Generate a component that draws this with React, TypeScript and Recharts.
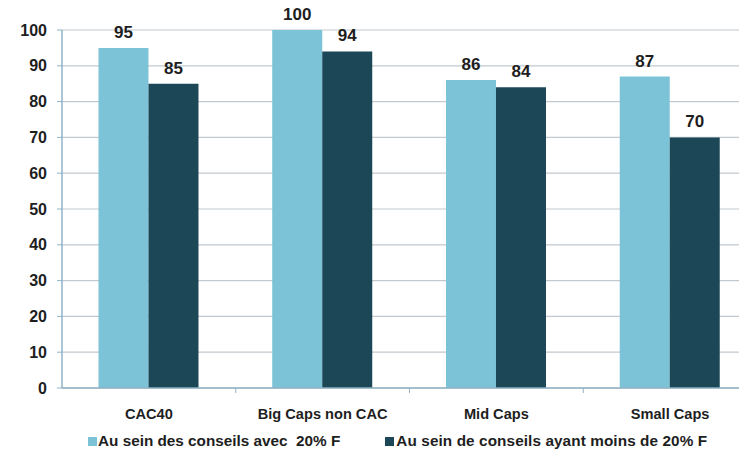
import React from "react";
import { BarChart, Bar, XAxis, YAxis, CartesianGrid, Legend, LabelList } from "recharts";

const categories = ["CAC40", "Big Caps non CAC", "Mid Caps", "Small Caps"];
const seriesAvec = [95, 100, 86, 87];
const seriesMoins = [85, 94, 84, 70];
const yTicks = [0, 10, 20, 30, 40, 50, 60, 70, 80, 90, 100];
const nameAvec = "Au sein des conseils avec  20% F";
const nameMoins = "Au sein de conseils ayant moins de 20% F";

const data = categories.map((c, i) => ({ cat: c, avec: seriesAvec[i], moins: seriesMoins[i] }));

const LIGHT = "#7cc3d8";
const DARK = "#1b4757";
const TEXT = "#1e1e1e";
const FONT = "'Liberation Sans', Arial, sans-serif";

const CatTick = (props: any) => {
  const { x, y, payload, index, visibleTicksCount } = props;
  const off = payload && payload.offset ? payload.offset : 87;
  return (
    <g>
      <text x={x} y={y + 31} textAnchor="middle" fontFamily={FONT} fontWeight="bold" fontSize={14.6} fill={TEXT}>
        {payload.value}
      </text>
      {index < (visibleTicksCount ?? 4) - 1 && (
        <line x1={x + off} y1={y} x2={x + off} y2={y + 5} stroke="#8fb3c6" strokeWidth={1} />
      )}
    </g>
  );
};

const LegendContent = () => (
  <div style={{ display: "flex", alignItems: "center", height: 24, fontFamily: FONT, fontWeight: "bold", fontSize: 15.3, lineHeight: "18px", color: TEXT, paddingLeft: 88, whiteSpace: "pre" }}>
    <span style={{ display: "inline-block", width: 9, height: 9, background: LIGHT, marginRight: 1 }} />
    <span style={{ marginRight: 45 }}>{nameAvec}</span>
    <span style={{ display: "inline-block", width: 9, height: 9, background: DARK, marginRight: 2 }} />
    <span style={{ letterSpacing: 0.1 }}>{nameMoins}</span>
  </div>
);

export default function App() {
  return (
    <div style={{ margin: -8, width: 747, height: 457, overflow: "hidden", position: "relative", background: "#fff" }}>
      <BarChart
        width={770}
        height={457}
        data={data}
        margin={{ top: 30, right: 13, left: 0, bottom: 0 }}
        barCategoryGap="21%"
        barGap={0}
      >
        <CartesianGrid vertical={false} stroke="#c2c9cf" strokeWidth={1.2} />
        <XAxis
          dataKey="cat"
          height={41}
          tickSize={0}
          tickMargin={0}
          tickLine={false}
          axisLine={{ stroke: "#8fb3c6", strokeWidth: 1.5 }}
          tick={<CatTick />}
          interval={0}
        />
        <YAxis
          width={62}
          domain={[0, 100]}
          ticks={yTicks}
          interval={0}
          tickSize={5}
          tickMargin={10}
          axisLine={{ stroke: "#8fb3c6", strokeWidth: 1.5 }}
          tickLine={{ stroke: "#8fb3c6" }}
          tick={{ fontFamily: FONT, fontWeight: "bold", fontSize: 16, fill: TEXT }}
        />
        <Legend verticalAlign="bottom" height={28} wrapperStyle={{ bottom: 0 }} content={<LegendContent />} />
        <Bar dataKey="avec" name={nameAvec} fill={LIGHT} isAnimationActive={false}>
          <LabelList dataKey="avec" position="top" offset={10} style={{ fontFamily: FONT, fontWeight: "bold", fontSize: 17, fill: TEXT }} />
        </Bar>
        <Bar dataKey="moins" name={nameMoins} fill={DARK} isAnimationActive={false}>
          <LabelList dataKey="moins" position="top" offset={10} style={{ fontFamily: FONT, fontWeight: "bold", fontSize: 17, fill: TEXT }} />
        </Bar>
      </BarChart>
    </div>
  );
}
